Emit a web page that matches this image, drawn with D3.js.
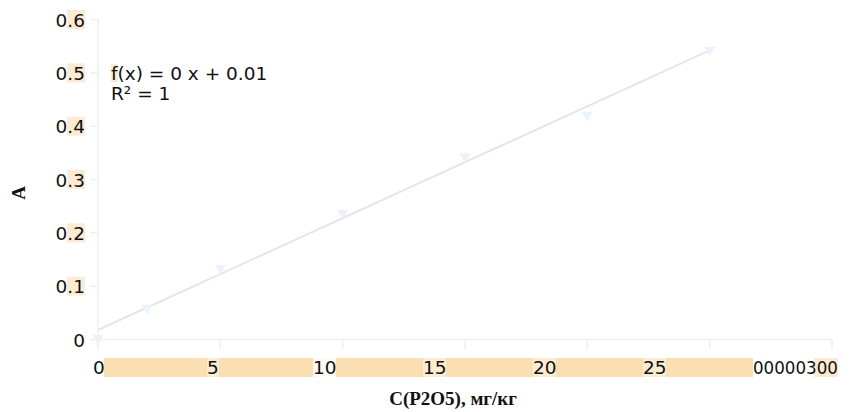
<!DOCTYPE html>
<html><head><meta charset="utf-8">
<script src="https://cdn.jsdelivr.net/npm/d3@7"></script>
<style>body{margin:0;background:#fff}svg{display:block}</style>
</head><body>
<svg id="c" width="851" height="412"></svg>
<script>
const concentrations = [0, 2, 5, 10, 15, 20, 25];
const absorbance = [0.003, 0.059, 0.134, 0.237, 0.343, 0.421, 0.543];
const xTickValues = [0, 5, 10, 15, 20, 25, 30];
const xTickLabels = ["0", "5", "10", "15", "20", "25", "00000300"];
const yTickValues = [0, 0.1, 0.2, 0.3, 0.4, 0.5, 0.6];
const yTickLabels = ["0", "0.1", "0.2", "0.3", "0.4", "0.5", "0.6"];
const equationLines = ["f(x) = 0 x + 0.01", "R² = 1"];
const xTitle = "C(P2O5), мг/кг";
const yTitle = "A";

const svg = d3.select("#c");
const x = d3.scaleLinear().domain([0, 30]).range([98, 832]);
const y = d3.scaleLinear().domain([0, 0.6]).range([339.5, 19.5]);
const xLab = d3.scaleLinear().domain([0, 30]).range([93, 753]);
const axisCol = "#efefef";
const font = "'DejaVu Sans', sans-serif";
const bg = svg.append("g"), fg = svg.append("g");
function txt(g, xp, yp, s, size, anchor) {
  return g.append("text").attr("x", xp).attr("y", yp).attr("text-anchor", anchor || "start")
    .style("font-family", font).style("font-size", size + "px").attr("fill", "#111").text(s);
}

// x label orange band
bg.append("rect").attr("x", xLab(0) + 11).attr("y", 358).attr("width", xLab(30) - xLab(0) - 11).attr("height", 19).attr("fill", "#fadfb2");

// axes lines
fg.append("line").attr("x1", x(0)).attr("x2", x(30)).attr("y1", y(0)).attr("y2", y(0)).attr("stroke", axisCol).attr("stroke-width", 1.5);
fg.append("line").attr("x1", x(0)).attr("x2", x(0)).attr("y1", y(0)).attr("y2", y(0.6)).attr("stroke", axisCol).attr("stroke-width", 1.5);
xTickValues.forEach(v => fg.append("line").attr("x1", x(v)).attr("x2", x(v)).attr("y1", y(0)).attr("y2", y(0) + 10).attr("stroke", axisCol).attr("stroke-width", 1.5));
yTickValues.forEach(v => fg.append("line").attr("x1", x(0) - 8).attr("x2", x(0)).attr("y1", y(v)).attr("y2", y(v)).attr("stroke", axisCol).attr("stroke-width", 1.5));

// y labels with partial highlight
yTickValues.forEach((v, i) => {
  if (i > 0) bg.append("rect").attr("x", 67).attr("y", y(v) - 9.5).attr("width", 18).attr("height", 19).attr("fill", "#fcebd3");
  txt(fg, 85, y(v) + 7, yTickLabels[i], 18.5, "end");
});

// x labels
xTickValues.forEach((v, i) => {
  const last = i === xTickValues.length - 1;
  let lx = xLab(v);
  if (v === 5) lx += 4;
  if (last) {
    bg.append("rect").attr("x", lx + 61).attr("y", 358).attr("width", 24).attr("height", 19).attr("fill", "#fcebd3");
    bg.append("rect").attr("x", lx).attr("y", 358).attr("width", 61).attr("height", 19).attr("fill", "#ffffff");
  } else if (v > 0) {
    bg.append("rect").attr("x", lx).attr("y", 358).attr("width", v < 10 ? 12 : 23).attr("height", 19).attr("fill", v % 10 === 0 && v !== 20 ? "#fffaf3" : "#fcecd2");
  }
  const t = txt(fg, lx, 374, xTickLabels[i], 18.5);
  if (last) t.attr("textLength", 85).attr("lengthAdjust", "spacingAndGlyphs");
});

// trend line (least squares)
const mx = d3.mean(concentrations), my = d3.mean(absorbance);
const slope = d3.sum(concentrations.map((c, i) => (c - mx) * (absorbance[i] - my))) / d3.sum(concentrations.map(c => (c - mx) ** 2));
const icpt = my - slope * mx;
const x0 = d3.min(concentrations), x1 = d3.max(concentrations);
fg.append("line").attr("x1", x(x0)).attr("y1", y(icpt + slope * x0)).attr("x2", x(x1)).attr("y2", y(icpt + slope * x1))
  .attr("stroke", "#e6e6e6").attr("stroke-width", 2);

// markers
const tri = d3.symbol().type(d3.symbolTriangle).size(55);
concentrations.forEach((c, i) => fg.append("path").attr("d", tri)
  .attr("transform", `translate(${x(c)},${y(absorbance[i])}) rotate(180)`).attr("fill", "#eaf2fb"));

// equation
bg.append("rect").attr("x", 111).attr("y", 64).attr("width", 7).attr("height", 18).attr("fill", "#fcebd3");
equationLines.forEach((s, i) => txt(fg, 111, 80 + i * 20, s, 18.5));

// titles
fg.append("text").attr("x", 453).attr("y", 405).attr("text-anchor", "middle")
  .style("font-family", "'Liberation Serif', serif").style("font-weight", "bold").style("font-size", "19px").attr("fill", "#111").text(xTitle);
fg.append("text").attr("transform", "translate(25,193) rotate(-90)").attr("text-anchor", "middle")
  .style("font-family", "'Liberation Serif', serif").style("font-weight", "bold").style("font-size", "19px").attr("fill", "#111").text(yTitle);
</script>
</body></html>
